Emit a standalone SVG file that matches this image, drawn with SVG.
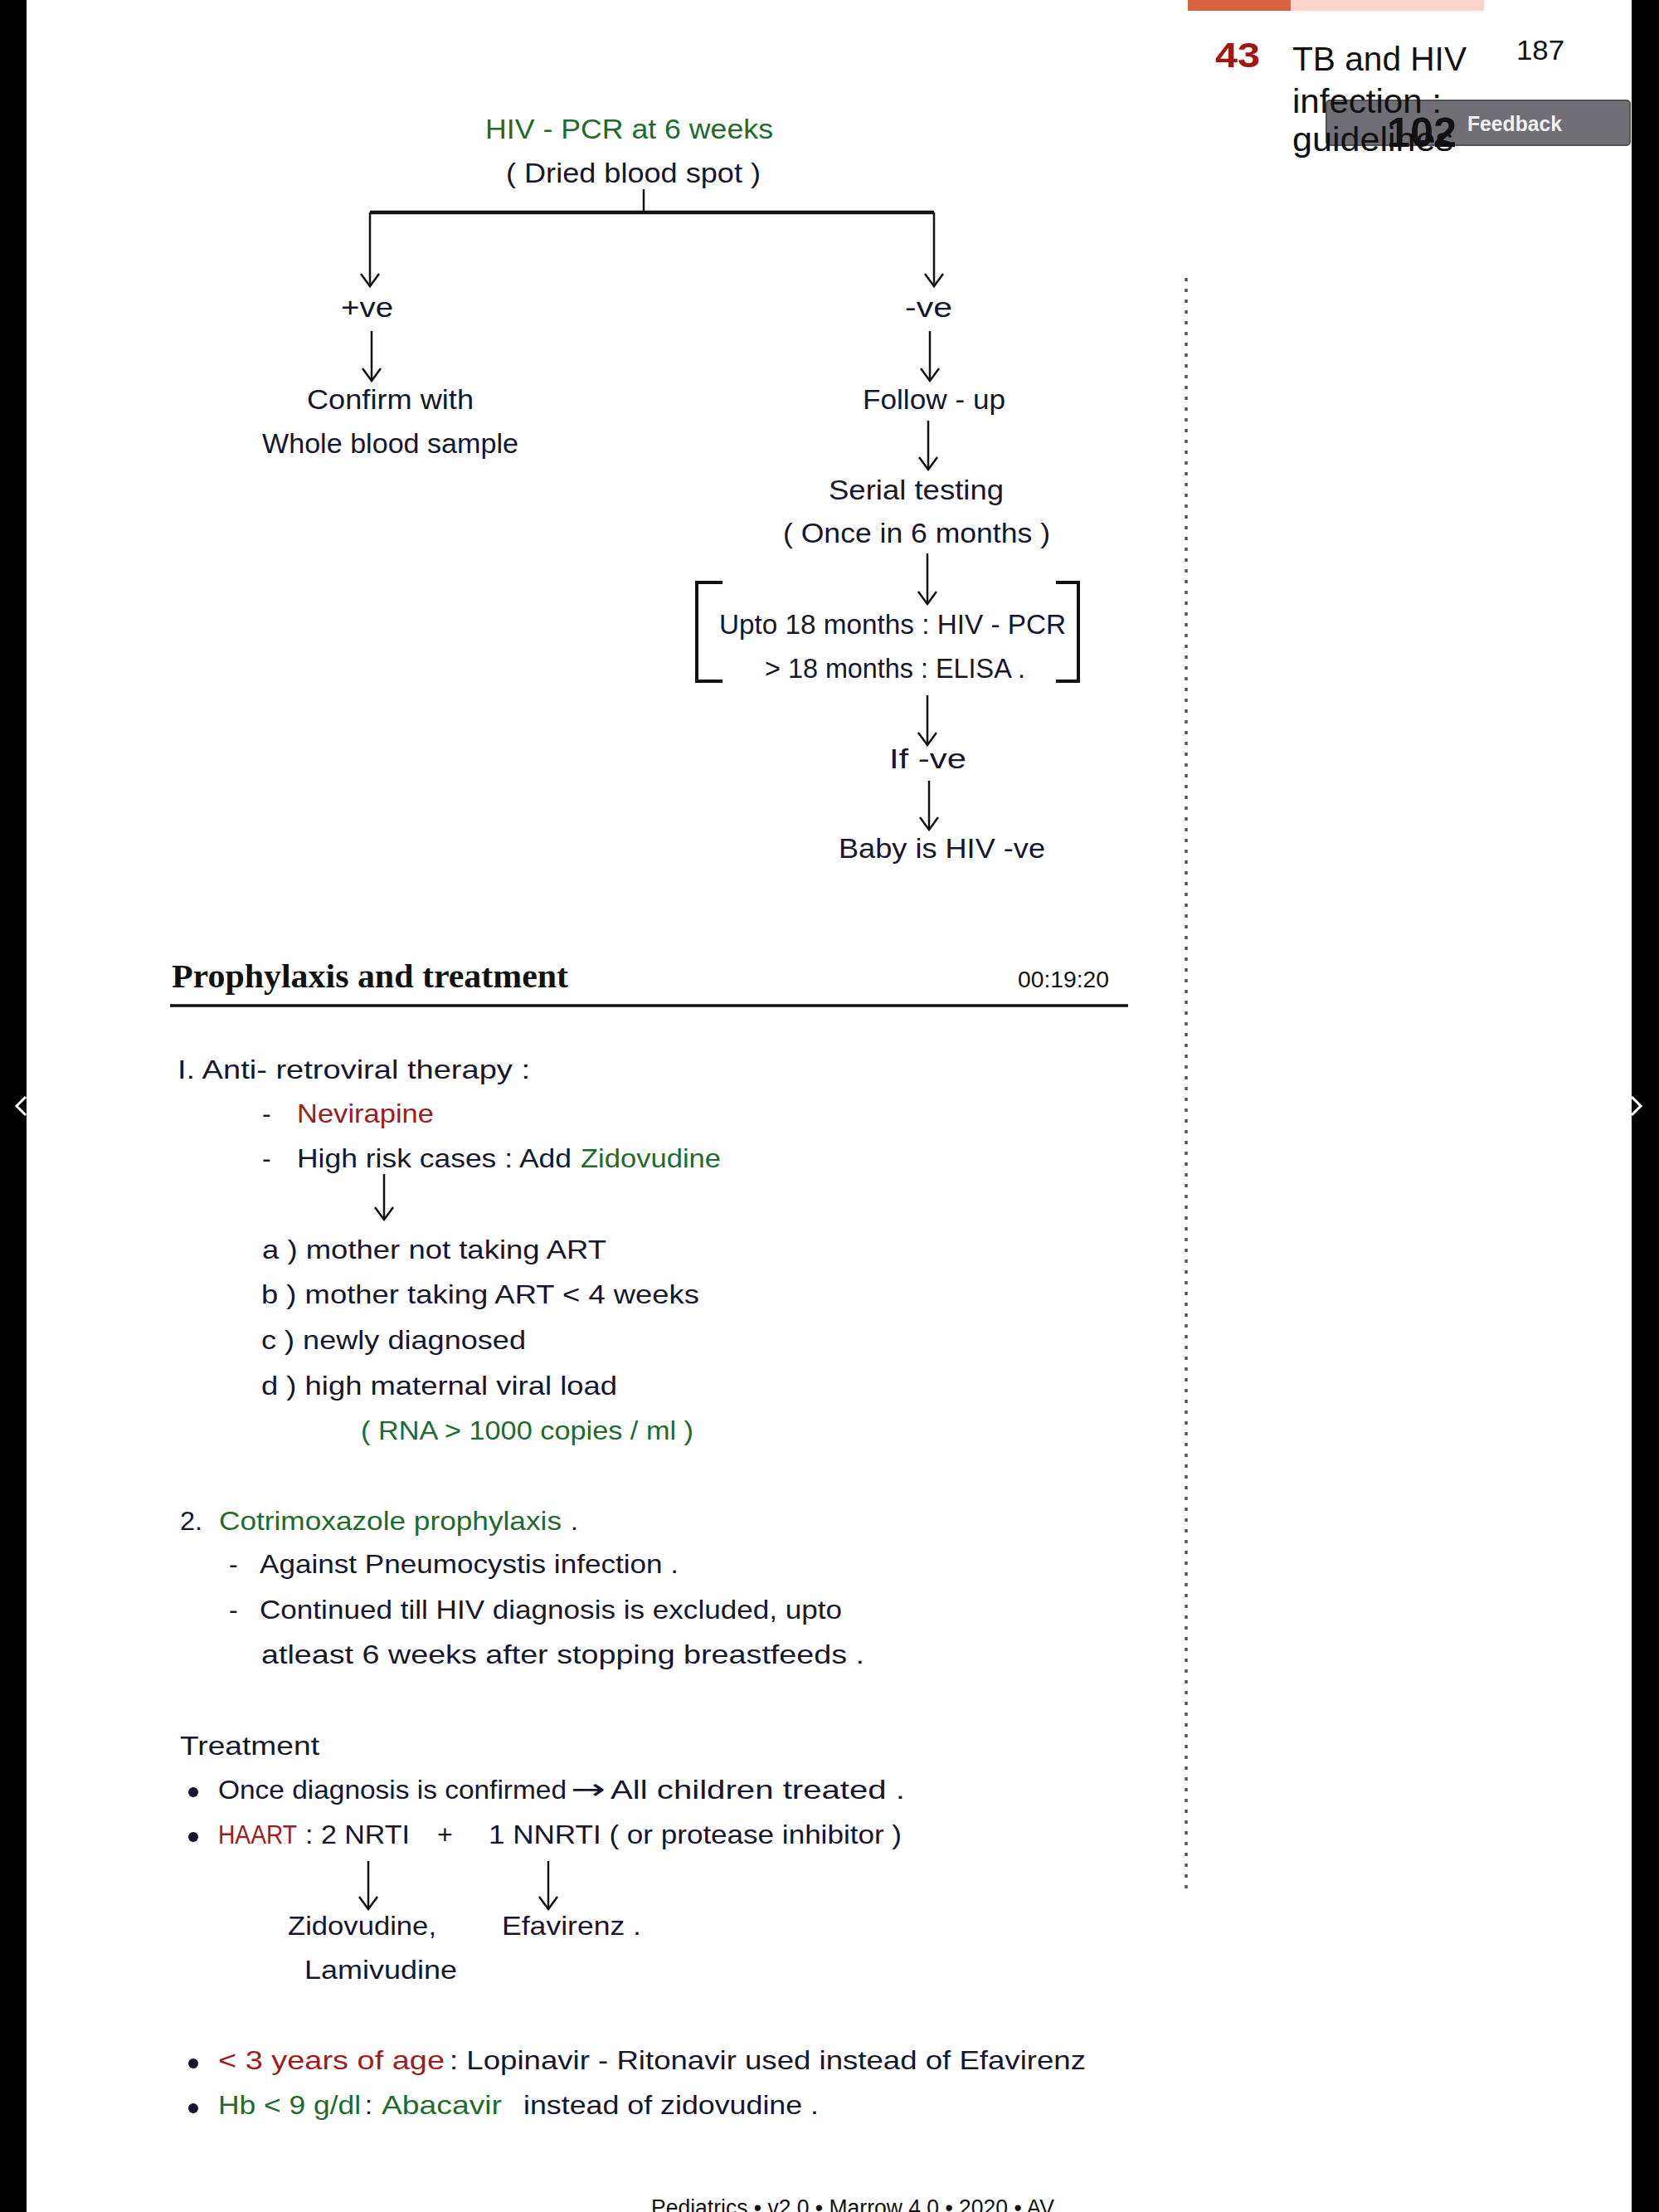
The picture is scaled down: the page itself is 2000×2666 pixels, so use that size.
<svg xmlns="http://www.w3.org/2000/svg" width="2000" height="2666" viewBox="0 0 2000 2666">
<defs>
<style>
.t{font-family:"Liberation Sans",Arial,sans-serif;font-size:33px;fill:#16162c}
.l{font-family:"Liberation Sans",Arial,sans-serif;font-size:32px;fill:#16162c}
.g{fill:#1f6b2e}
.r{fill:#a01c1c}
.ln{stroke:#111;stroke-width:2.5;fill:none}
.arr{stroke:#111;stroke-width:2.5;fill:none;marker-end:url(#ah)}
.hdr{font-family:"Liberation Sans",Arial,sans-serif;fill:#111}
</style>
<marker id="ah" viewBox="0 0 18 24" refX="16" refY="12" markerWidth="18" markerHeight="24" markerUnits="userSpaceOnUse" orient="auto">
<path d="M1,1 L16,12 L1,23" fill="none" stroke="#111" stroke-width="2.5"/>
</marker>
</defs>
<rect width="2000" height="2666" fill="#ffffff"/>
<rect x="0" y="0" width="32" height="2666" fill="#000"/>
<rect x="1967" y="0" width="33" height="2666" fill="#000"/>
<path d="M31,1322 L20,1333 L31,1344" fill="none" stroke="#fff" stroke-width="3"/>
<path d="M1967,1322 L1978,1333 L1967,1344" fill="none" stroke="#fff" stroke-width="3"/>

<g id="page-header">
<rect x="1432" y="0" width="124" height="13" fill="#d9623f"/>
<rect x="1556" y="0" width="233" height="13" fill="#f9d4c9"/>
<rect x="1599" y="121" width="366" height="54" rx="4" fill="#6f6f75" stroke="#555" stroke-width="2"/>
<text class="hdr" x="1465" y="81" font-size="42" font-weight="bold" style="fill:#a3160f" textLength="54" lengthAdjust="spacingAndGlyphs">43</text>
<text class="hdr" x="1558" y="85" font-size="40" textLength="210" lengthAdjust="spacingAndGlyphs">TB and HIV</text>
<text class="hdr" x="1828" y="72" font-size="34" textLength="58" lengthAdjust="spacingAndGlyphs">187</text>
<text class="hdr" x="1558" y="136" font-size="40" textLength="180" lengthAdjust="spacingAndGlyphs">infection :</text>
<text class="hdr" x="1558" y="182" font-size="40" textLength="194" lengthAdjust="spacingAndGlyphs">guidelines</text>
<text class="hdr" x="1672" y="177" font-size="50" font-weight="bold" textLength="84" lengthAdjust="spacingAndGlyphs">102</text>
<text class="hdr" x="1769" y="158" font-size="26" font-weight="bold" style="fill:#f2f2f2" textLength="114" lengthAdjust="spacingAndGlyphs">Feedback</text>
</g>

<g id="connectors">
<path class="ln" d="M776,228 V256"/>
<path d="M446,256 H1126" stroke="#111" stroke-width="4.5" fill="none"/>
<path class="arr" d="M446,256 V345"/>
<path class="arr" d="M1126,256 V345"/>
<path class="arr" d="M448,399 V459"/>
<path class="arr" d="M1121,399 V459"/>
<path class="arr" d="M1119,507 V566"/>
<path class="arr" d="M1118,667 V728"/>
<path class="arr" d="M1118,838 V898"/>
<path class="arr" d="M1120,941 V1000"/>
<path class="arr" d="M463,1415 V1470"/>
<path class="arr" d="M444,2243 V2301"/>
<path class="arr" d="M661,2243 V2301"/>
</g>

<g id="node-hiv-pcr">
<text class="t g" x="585" y="167" textLength="347" lengthAdjust="spacingAndGlyphs">HIV - PCR at 6 weeks</text>
<text class="t" x="610" y="220" textLength="307" lengthAdjust="spacingAndGlyphs">( Dried blood spot )</text>
</g>
<g id="node-positive">
<text class="t" x="411" y="382" textLength="63" lengthAdjust="spacingAndGlyphs">+ve</text>
</g>
<g id="node-negative">
<text class="t" x="1091" y="382" textLength="57" lengthAdjust="spacingAndGlyphs">-ve</text>
</g>
<g id="node-confirm">
<text class="t" x="370" y="493" textLength="201" lengthAdjust="spacingAndGlyphs">Confirm with</text>
<text class="t" x="316" y="546" textLength="309" lengthAdjust="spacingAndGlyphs">Whole blood sample</text>
</g>
<g id="node-followup">
<text class="t" x="1040" y="493" textLength="172" lengthAdjust="spacingAndGlyphs">Follow - up</text>
</g>
<g id="node-serial">
<text class="t" x="999" y="602" textLength="211" lengthAdjust="spacingAndGlyphs">Serial testing</text>
<text class="t" x="944" y="654" textLength="322" lengthAdjust="spacingAndGlyphs">( Once in 6 months )</text>
</g>
<g id="node-tests">
<path d="M871,702 H840 V821 H871" stroke="#111" stroke-width="4" fill="none"/>
<path d="M1273,702 H1300 V821 H1273" stroke="#111" stroke-width="4" fill="none"/>
<text class="t" x="867" y="764" textLength="418" lengthAdjust="spacingAndGlyphs">Upto 18 months : HIV - PCR</text>
<text class="t" x="922" y="817" textLength="314" lengthAdjust="spacingAndGlyphs">&gt; 18 months : ELISA .</text>
</g>
<g id="node-ifneg">
<text class="t" x="1072" y="926" textLength="93" lengthAdjust="spacingAndGlyphs">If -ve</text>
</g>
<g id="node-baby">
<text class="t" x="1011" y="1034" textLength="249" lengthAdjust="spacingAndGlyphs">Baby is HIV -ve</text>
</g>

<path d="M1430,335 V2279" stroke="#555" stroke-width="3.5" stroke-dasharray="4 9" fill="none"/>

<g id="section-heading">
<text x="207" y="1190" font-family="Liberation Serif,Times New Roman,serif" font-size="40" font-weight="bold" fill="#111" textLength="478" lengthAdjust="spacingAndGlyphs">Prophylaxis and treatment</text>
<text x="1227" y="1190" font-family="Liberation Sans,Arial,sans-serif" font-size="28" fill="#111" textLength="110" lengthAdjust="spacingAndGlyphs">00:19:20</text>
<path d="M205,1212 H1360" stroke="#111" stroke-width="3.5"/>
</g>

<g id="art">
<text class="l" x="214" y="1300" textLength="425" lengthAdjust="spacingAndGlyphs">I. Anti- retroviral therapy :</text>
<text class="l" x="316" y="1353">-</text>
<text class="l r" x="358" y="1353" textLength="165" lengthAdjust="spacingAndGlyphs">Nevirapine</text>
<text class="l" x="316" y="1407">-</text>
<text class="l" x="358" y="1407" textLength="331" lengthAdjust="spacingAndGlyphs">High risk cases : Add</text>
<text class="l g" x="700" y="1407" textLength="169" lengthAdjust="spacingAndGlyphs">Zidovudine</text>
<text class="l" x="316" y="1517" textLength="415" lengthAdjust="spacingAndGlyphs">a ) mother not taking ART</text>
<text class="l" x="315" y="1571" textLength="528" lengthAdjust="spacingAndGlyphs">b ) mother taking ART &lt; 4 weeks</text>
<text class="l" x="315" y="1626" textLength="319" lengthAdjust="spacingAndGlyphs">c ) newly diagnosed</text>
<text class="l" x="315" y="1681" textLength="429" lengthAdjust="spacingAndGlyphs">d ) high maternal viral load</text>
<text class="l g" x="435" y="1735" textLength="401" lengthAdjust="spacingAndGlyphs">( RNA &gt; 1000 copies / ml )</text>
</g>

<g id="cotrimoxazole">
<text class="l" x="217" y="1844" textLength="27" lengthAdjust="spacingAndGlyphs">2.</text>
<text class="l g" x="264" y="1844" textLength="413" lengthAdjust="spacingAndGlyphs">Cotrimoxazole prophylaxis</text>
<text class="l" x="688" y="1844">.</text>
<text class="l" x="276" y="1896">-</text>
<text class="l" x="313" y="1896" textLength="505" lengthAdjust="spacingAndGlyphs">Against Pneumocystis infection .</text>
<text class="l" x="276" y="1951">-</text>
<text class="l" x="313" y="1951" textLength="702" lengthAdjust="spacingAndGlyphs">Continued till HIV diagnosis is excluded, upto</text>
<text class="l" x="315" y="2005" textLength="727" lengthAdjust="spacingAndGlyphs">atleast 6 weeks after stopping breastfeeds .</text>
</g>

<g id="treatment">
<text class="l" x="217" y="2115" textLength="168" lengthAdjust="spacingAndGlyphs">Treatment</text>
<circle cx="233" cy="2160" r="6" fill="#16162c"/>
<text class="l" x="263" y="2168" textLength="420" lengthAdjust="spacingAndGlyphs">Once diagnosis is confirmed</text>
<text x="688" y="2168" font-family="DejaVu Sans,sans-serif" font-size="34" fill="#16162c" textLength="42" lengthAdjust="spacingAndGlyphs">→</text>
<text class="l" x="736" y="2168" textLength="355" lengthAdjust="spacingAndGlyphs">All children treated .</text>
<circle cx="233" cy="2214" r="6" fill="#16162c"/>
<text class="l r" x="263" y="2222" textLength="95" lengthAdjust="spacingAndGlyphs">HAART</text>
<text class="l" x="368" y="2222" textLength="126" lengthAdjust="spacingAndGlyphs">: 2 NRTI</text>
<text class="l" x="527" y="2222">+</text>
<text class="l" x="589" y="2222" textLength="498" lengthAdjust="spacingAndGlyphs">1 NNRTI ( or protease inhibitor )</text>
<text class="l" x="347" y="2332" textLength="179" lengthAdjust="spacingAndGlyphs">Zidovudine,</text>
<text class="l" x="605" y="2332" textLength="168" lengthAdjust="spacingAndGlyphs">Efavirenz .</text>
<text class="l" x="367" y="2385" textLength="184" lengthAdjust="spacingAndGlyphs">Lamivudine</text>
<circle cx="233" cy="2487" r="6" fill="#16162c"/>
<text class="l r" x="263" y="2494" textLength="273" lengthAdjust="spacingAndGlyphs">&lt; 3 years of age</text>
<text class="l" x="542" y="2494" textLength="767" lengthAdjust="spacingAndGlyphs">: Lopinavir - Ritonavir used instead of Efavirenz</text>
<circle cx="233" cy="2541" r="6" fill="#16162c"/>
<text class="l g" x="263" y="2548" textLength="172" lengthAdjust="spacingAndGlyphs">Hb &lt; 9 g/dl</text>
<text class="l" x="440" y="2548">:</text>
<text class="l g" x="460" y="2548" textLength="145" lengthAdjust="spacingAndGlyphs">Abacavir</text>
<text class="l" x="631" y="2548" textLength="356" lengthAdjust="spacingAndGlyphs">instead of zidovudine .</text>
</g>

<g id="footer">
<text x="785" y="2670" font-family="Liberation Sans,Arial,sans-serif" font-size="27" fill="#111" textLength="486" lengthAdjust="spacingAndGlyphs">Pediatrics  • v2.0 • Marrow 4.0 • 2020 • AV</text>
</g>
</svg>
